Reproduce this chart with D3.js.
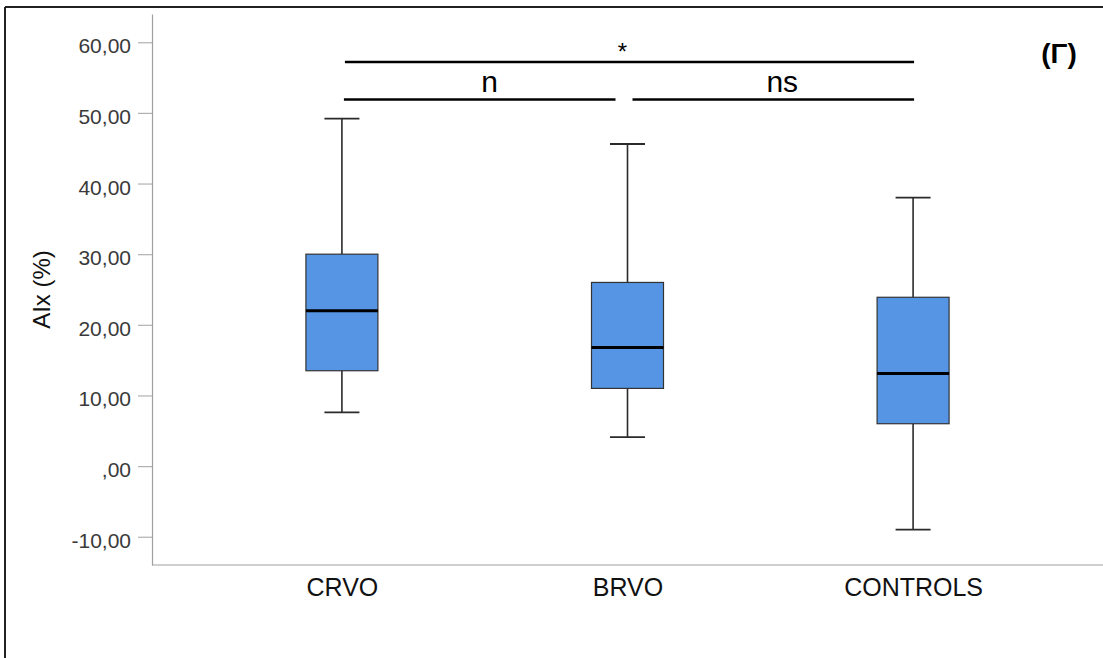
<!DOCTYPE html>
<html>
<head>
<meta charset="utf-8">
<script src="https://cdn.jsdelivr.net/npm/d3@7"></script>
<style>
	body { margin: 0; background: #fff; }
	svg { display: block; font-family: Arial, 'Liberation Sans', sans-serif; }
</style>
</head>
<body>
<svg id="chart" width="1103" height="658"></svg>
<script>
// group names and the box plot stats
var groups = ['CRVO', 'BRVO', 'CONTROLS'];
var whiskerLow = [7.6, 4.1, -9.0];
var q1 = [13.5, 11.0, 6.0];
var median = [22.0, 16.8, 13.1];
var q3 = [30.0, 26.0, 23.9];
var whiskerHigh = [49.2, 45.6, 38.0];

var yTicks = [-10, 0, 10, 20, 30, 40, 50, 60];
var yTickLabels = ['-10,00', ',00', '10,00', '20,00', '30,00', '40,00', '50,00', '60,00'];

// significance bars: from group, to group, height (in y units), label
var sigFrom = ['CRVO', 'CRVO', 'BRVO'];
var sigTo = ['CONTROLS', 'BRVO', 'CONTROLS'];
var sigLevel = [57.2, 51.9, 51.9];
var sigLabel = ['*', 'n', 'ns'];

var svg = d3.select('#chart');

//outer frame (only top and left edges show in the picture)
svg.append('line').attr('x1', 5).attr('y1', 7).attr('x2', 1103).attr('y2', 7)
	.attr('stroke', '#222').attr('stroke-width', 2);
svg.append('line').attr('x1', 5).attr('y1', 7).attr('x2', 5).attr('y2', 658)
	.attr('stroke', '#222').attr('stroke-width', 2);

var x = d3.scalePoint()
	.domain(groups)
	.range([152, 1103])
	.padding(0.665);

var y = d3.scaleLinear()
	.domain([-14, 64])
	.range([565, 14]);

//y axis
var yAxis = svg.append('g')
	.attr('transform', 'translate(152,0)')
	.call(d3.axisLeft(y)
		.tickValues(yTicks)
		.tickSize(14)
		.tickSizeOuter(0)
		.tickPadding(7)
		.tickFormat(function (d) { return yTickLabels[yTicks.indexOf(d)]; }));
yAxis.select('.domain').attr('stroke', '#a0a0a0').attr('stroke-width', 1.2);
yAxis.selectAll('.tick line').attr('stroke', '#b0b0b0').attr('stroke-width', 1.2);
yAxis.selectAll('.tick text')
	.attr('fill', '#3a3a3a')
	.attr('font-size', 21)
	.attr('font-family', 'Arial, Liberation Sans, sans-serif')
	.attr('dy', '0.5em');

//x axis
var xAxis = svg.append('g')
	.attr('transform', 'translate(0,565)')
	.call(d3.axisBottom(x).tickSize(0).tickPadding(13));
xAxis.select('.domain').attr('d', 'M152,0H1103').attr('stroke', '#a0a0a0').attr('stroke-width', 1.2);
xAxis.selectAll('.tick text')
	.attr('fill', '#111')
	.attr('font-size', 25)
	.attr('font-family', 'Arial, Liberation Sans, sans-serif');

//y axis title
svg.append('text')
	.attr('transform', 'translate(50,' + ((y.range()[0] + y.range()[1]) / 2) + ') rotate(-90)')
	.attr('text-anchor', 'middle')
	.attr('font-size', 24)
	.attr('fill', '#111')
	.text('AIx (%)');

//boxes
var boxW = 72;
var capW = 35;
var boxes = svg.append('g');
for (var i = 0; i < groups.length; i++) {
	var cx = x(groups[i]);
	var g = boxes.append('g');

	//whiskers
	g.append('line')
		.attr('x1', cx).attr('x2', cx)
		.attr('y1', y(whiskerHigh[i])).attr('y2', y(q3[i]))
		.attr('stroke', '#2a2a2a').attr('stroke-width', 1.6);
	g.append('line')
		.attr('x1', cx).attr('x2', cx)
		.attr('y1', y(q1[i])).attr('y2', y(whiskerLow[i]))
		.attr('stroke', '#2a2a2a').attr('stroke-width', 1.6);
	g.append('line')
		.attr('x1', cx - capW / 2).attr('x2', cx + capW / 2)
		.attr('y1', y(whiskerHigh[i])).attr('y2', y(whiskerHigh[i]))
		.attr('stroke', '#2a2a2a').attr('stroke-width', 1.8);
	g.append('line')
		.attr('x1', cx - capW / 2).attr('x2', cx + capW / 2)
		.attr('y1', y(whiskerLow[i])).attr('y2', y(whiskerLow[i]))
		.attr('stroke', '#2a2a2a').attr('stroke-width', 1.8);

	g.append('rect')
		.attr('x', cx - boxW / 2)
		.attr('y', y(q3[i]))
		.attr('width', boxW)
		.attr('height', y(q1[i]) - y(q3[i]))
		.attr('fill', '#5595e4')
		.attr('stroke', '#333')
		.attr('stroke-width', 1.2);

	g.append('line')
		.attr('x1', cx - boxW / 2).attr('x2', cx + boxW / 2)
		.attr('y1', y(median[i])).attr('y2', y(median[i]))
		.attr('stroke', '#000').attr('stroke-width', 3);
}

//significance bars, with small gaps where two bars meet
var startGap = [3, 2, 5];
var endGap = [1, -12, 1];
var labelShift = [-5, 5, 12];
var labelSize = [24, 30, 30];
var labelLift = [2, 7, 7];
for (var s = 0; s < sigLabel.length; s++) {
	var xa = x(sigFrom[s]) + startGap[s];
	var xb = x(sigTo[s]) + endGap[s];
	var ly = y(sigLevel[s]);
	svg.append('line')
		.attr('x1', xa).attr('x2', xb)
		.attr('y1', ly).attr('y2', ly)
		.attr('stroke', '#000').attr('stroke-width', 2.5);
	svg.append('text')
		.attr('x', (x(sigFrom[s]) + x(sigTo[s])) / 2 + labelShift[s])
		.attr('y', ly - labelLift[s])
		.attr('text-anchor', 'middle')
		.attr('font-size', labelSize[s])
		.attr('fill', '#000')
		.text(sigLabel[s]);
}

//panel letter
svg.append('text')
	.attr('x', 1059)
	.attr('y', 63)
	.attr('text-anchor', 'middle')
	.attr('font-size', 28)
	.attr('font-weight', 'bold')
	.attr('fill', '#000')
	.text('(Γ)');
</script>
</body>
</html>
